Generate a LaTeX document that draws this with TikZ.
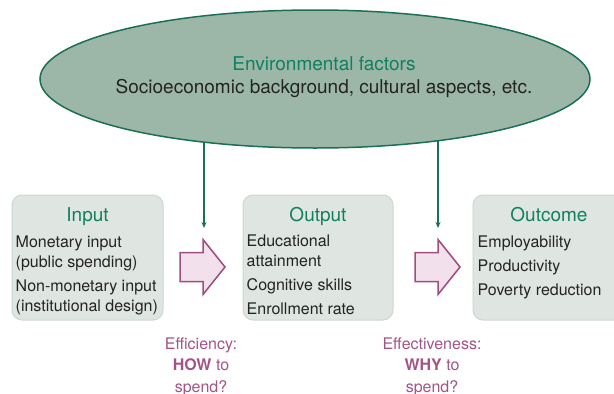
\documentclass[tikz,border=0pt]{standalone}
\usepackage{fontspec}
\setmainfont{TeX Gyre Heros}
\usetikzlibrary{calc,positioning,shapes,backgrounds,arrows.meta}
\definecolor{envfill}{RGB}{156,183,167}
\definecolor{envline}{RGB}{26,112,84}
\definecolor{titlegreen}{RGB}{16,128,96}
\definecolor{textdark}{RGB}{35,35,35}
\definecolor{boxfill}{RGB}{223,229,224}
\definecolor{boxline}{RGB}{205,215,208}
\definecolor{arrowfill}{RGB}{242,224,236}
\definecolor{arrowline}{RGB}{160,78,130}
\definecolor{labelcol}{RGB}{162,84,136}

\begin{document}
\begin{tikzpicture}[x=1pt,y=-1pt,
    envell/.style={ellipse,draw=envline,line width=1.5pt,fill=envfill,minimum width=550pt,minimum height=138pt,inner sep=0pt},
    envtext/.style={align=center,text=textdark,font=\fontsize{19}{23}\selectfont,inner sep=0pt},
    stagebox/.style={draw=boxline,fill=boxfill,rounded corners=10pt,line width=1pt,minimum height=125pt},
    stagetitle/.style={anchor=base,text=titlegreen,font=\fontsize{19}{23}\selectfont,inner sep=0pt},
    itemlist/.style={anchor=base west,align=left,text=textdark,font=\fontsize{16}{20}\selectfont,inner sep=0pt},
    gaplabel/.style={anchor=base,align=center,text=labelcol,font=\fontsize{16}{21.5}\selectfont,inner sep=0pt},
    envarrow/.style={draw=envline,line width=1.5pt,-{Stealth[length=6pt,width=5pt]}},
    gaparrow/.style={draw=arrowline,fill=arrowfill,line width=1.5pt,line join=miter}]
	\useasboundingbox (0,0) rectangle (614,394);
	\node[envell](env) at (315,79) {};
	\node[envtext](envlabel) at ($(env.center)+(9,-2)$) {\textcolor{titlegreen}{Environmental factors}\\Socioeconomic background, cultural aspects, etc.};
	% stages
	\node[stagebox,minimum width=151pt](input) at (87.5,257.5) {};
	\node[stagebox,minimum width=150pt](output) at (318,257.5) {};
	\node[stagebox,minimum width=152pt](outcome) at (549,257.5) {};
	\node[stagetitle](inputtitle) at ($(input.north)+(0,27)$) {Input};
	\node[stagetitle](outputtitle) at ($(output.north)+(0,27)$) {Output};
	\node[stagetitle](outcometitle) at ($(outcome.north)+(0,27)$) {Outcome};
	% base = last line
	\node[itemlist](inputitems) at ($(input.north west)+(4,117)$) {Monetary input\\(public spending)\\[4pt]Non-monetary input\\(institutional design)};
	\node[itemlist](outputitems) at ($(output.north west)+(4,120)$) {Educational\\attainment\\[4pt]Cognitive skills\\[4pt]Enrollment rate};
	\node[itemlist](outcomeitems) at ($(outcome.north west)+(5,101)$) {Employability\\[4pt]Productivity\\[4pt]Poverty reduction};
	% gaps between stages
	\coordinate(effarrow) at (180,267);
	\coordinate(effectarrow) at (415,267);
	\draw[gaparrow] (effarrow) ++(0,-14.5) -- ++(23,0) -- ++(0,-13) -- ++(22,27.5) -- ++(-22,27.5) -- ++(0,-13) -- ++(-23,0) -- cycle;
	\draw[gaparrow] (effectarrow) ++(0,-14.5) -- ++(23,0) -- ++(0,-13) -- ++(22,27.5) -- ++(-22,27.5) -- ++(0,-13) -- ++(-23,0) -- cycle;
	\coordinate(effin) at (204,228);
	\coordinate(effectin) at (438,228);
	\begin{scope}[on background layer]
		\draw[envarrow] (env.center -| effin) -- (effin);
		\draw[envarrow] (env.center -| effectin) -- (effectin);
	\end{scope}
	\node[gaplabel](efficiency) at (201,392) {Efficiency:\\\textbf{HOW} to\\spend?};
	\node[gaplabel](effectiveness) at (432,392) {Effectiveness:\\\textbf{WHY} to\\spend?};
\end{tikzpicture}
\end{document}
